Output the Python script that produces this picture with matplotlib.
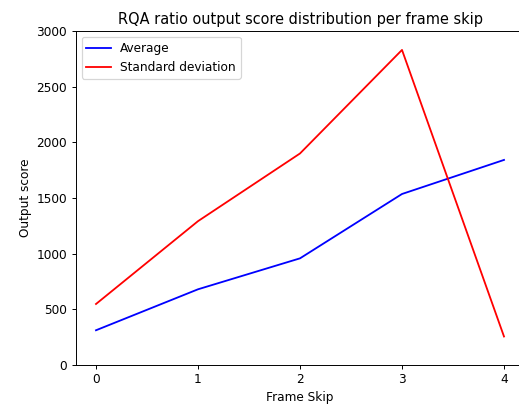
import matplotlib
matplotlib.use("Agg")
import matplotlib.pyplot as plt

# Dados
frame_skip = [0, 1, 2, 3, 4]
media = [312, 680, 958, 1536, 1842]
desvio_padrao = [548, 1292, 1900, 2830, 256]

# dpi menor para reduzir texto e linhas como na referência
dpi = 87
fig = plt.figure(figsize=(519 / dpi, 405 / dpi), dpi=dpi)
ax = fig.add_axes([75.6 / 519, 1 - 365 / 405, 448.8 / 519, 334 / 405])

ax.plot(frame_skip, media, color="b", label="Average")
ax.plot(frame_skip, desvio_padrao, color="r", label="Standard deviation")

ax.set_ylim(0, 3000)
ax.set_xticks(frame_skip)
ax.set_title("RQA ratio output score distribution per frame skip")
ax.set_xlabel("Frame Skip")
ax.set_ylabel("Output score")
ax.legend(loc="upper left")

fig.savefig("out.png", dpi=dpi)
